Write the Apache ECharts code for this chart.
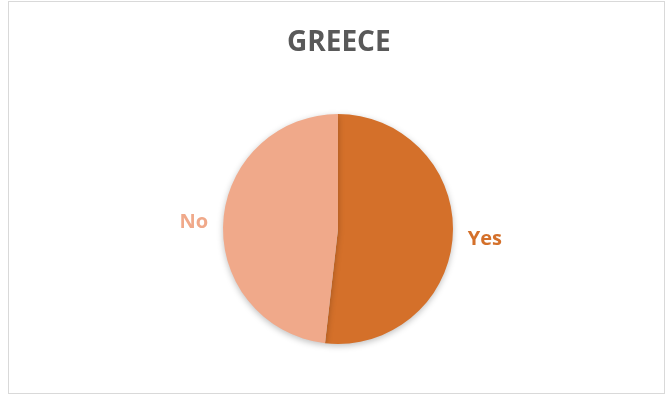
<!DOCTYPE html>
<html>
<head>
<meta charset="utf-8">
<script src="https://cdn.jsdelivr.net/npm/echarts@6/dist/echarts.min.js"></script>
<style>
  html, body { margin: 0; padding: 0; background: #fff; }
  #frame { position: absolute; left: 8px; top: 1px; width: 657px; height: 393px; border: 1px solid #d9d9d9; box-sizing: border-box; }
  #chart { width: 669px; height: 395px; }
</style>
</head>
<body>
<div id="chart"></div>
<div id="frame"></div>
<script>
const chartTitle = 'GREECE';
const categories = ['Yes', 'No'];
const values = [51.8, 48.2];
const colors = ['#D4702A', '#F0A98A'];

const chart = echarts.init(document.getElementById('chart'), null, { renderer: 'canvas' });
chart.setOption({
  animation: false,
  title: {
    text: chartTitle,
    left: 282,
    top: 24,
    textStyle: { fontFamily: 'Open Sans', fontWeight: 'bold', fontSize: 28, color: '#595959' }
  },
  series: [{
    type: 'pie',
    center: [338, 229],
    radius: 115,
    startAngle: 90,
    clockwise: true,
    data: categories.map((c, i) => ({
      name: c,
      value: values[i],
      itemStyle: { color: colors[i] },
      label: { color: colors[i] }
    })),
    itemStyle: {
      shadowBlur: 6,
      shadowColor: 'rgba(0,0,0,0.25)',
      shadowOffsetY: 2
    },
    label: {
      show: true,
      position: 'outside',
      formatter: '{b}',
      fontFamily: 'Open Sans',
      fontWeight: 'bold',
      fontSize: 20
    },
    labelLayout: function (params) {
      return params.dataIndex === 0 ? { dy: 3 } : {};
    },
    labelLine: { show: false, length: 10, length2: 0 },
    emphasis: { disabled: true }
  }]
});
</script>
</body>
</html>
